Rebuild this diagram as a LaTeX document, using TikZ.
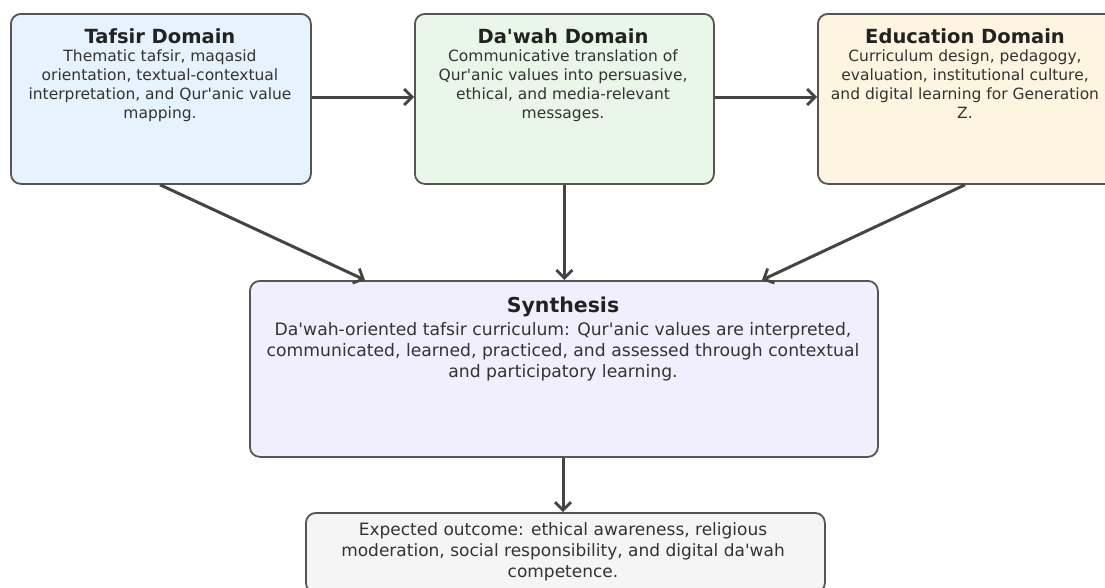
\documentclass[tikz,border=0pt]{standalone}
\usepackage{fontspec}
\setmainfont{DejaVu Sans}
\usetikzlibrary{arrows.meta}
\newcommand\ap{\textquotesingle}
\definecolor{bordc}{HTML}{555555}
\definecolor{arrc}{HTML}{444444}
\definecolor{tafc}{HTML}{E6F2FD}
\definecolor{dawc}{HTML}{E9F7E9}
\definecolor{educ}{HTML}{FEF5E1}
\definecolor{sync}{HTML}{F1EFFE}
\definecolor{outc}{HTML}{F5F5F5}
\definecolor{titc}{HTML}{222222}
\definecolor{bodc}{HTML}{333333}
\tikzset{
  box/.style={draw=bordc, line width=1.8pt, rounded corners=10pt, inner sep=0pt, anchor=north west},
  ttl/.style={anchor=base, text=titc, font=\bfseries\fontsize{19.5}{22}\selectfont},
  bdy/.style={anchor=north, text=bodc, align=center, inner sep=0pt, font=\fontsize{15.5}{19}\selectfont},
  conn/.style={draw=arrc, line width=3pt, -{Straight Barb[length=8pt,width=16pt,line width=2.8pt]}}
}
\begin{document}
\begin{tikzpicture}[x=1pt,y=-1pt]
\useasboundingbox (0,0) rectangle (1105,587);
\begin{scope}
\clip (0,0) rectangle (1105,587);
% boxes
\node[box, fill=tafc, minimum width=300pt, minimum height=170pt] (taf) at (10,13) {};
\node[box, fill=dawc, minimum width=299pt, minimum height=170pt] (daw) at (414,13) {};
\node[box, fill=educ, minimum width=300pt, minimum height=170pt] (edu) at (817,13) {};
\node[box, fill=sync, minimum width=628pt, minimum height=176pt] (syn) at (249,280) {};
\node[box, fill=outc, minimum width=519pt, minimum height=80pt] (out) at (305,512) {};

% texts
\node[ttl] (taft) at (160,43) {Tafsir Domain};
\node[bdy] (tafb) at (160,50) {Thematic tafsir, maqasid\\orientation, textual-contextual\\interpretation, and Qur\ap anic value\\mapping.};
\node[ttl] (dawt) at (563,43) {Da\ap wah Domain};
\node[bdy] (dawb) at (563,50) {Communicative translation of\\Qur\ap anic values into persuasive,\\ethical, and media-relevant\\messages.};
\node[ttl] (edut) at (965,43) {Education Domain};
\node[bdy] (edub) at (965,50) {Curriculum design, pedagogy,\\evaluation, institutional culture,\\and digital learning for Generation\\Z.};
\node[ttl, font=\bfseries\fontsize{20.5}{23}\selectfont] (synt) at (563,312) {Synthesis};
\node[bdy, font=\fontsize{17.2}{21}\selectfont] (synb) at (563,322) {Da\ap wah-oriented tafsir curriculum: Qur\ap anic values are interpreted,\\communicated, learned, practiced, and assessed through contextual\\and participatory learning.};
\node[bdy, font=\fontsize{17}{21}\selectfont] (outb) at (563,522) {Expected outcome: ethical awareness, religious\\moderation, social responsibility, and digital da\ap wah\\competence.};
\end{scope}

% connectors
\draw[conn] (taf.east |- 0,97) -- (daw.west |- 0,97);
\draw[conn] (daw.east |- 0,97) -- (edu.west |- 0,97);
\draw[conn] (taf.south -| 160,0) -- (syn.north -| 365,0);
\draw[conn] (daw.south) -- (syn.north -| daw.south);
\draw[conn] (edu.south -| 965,0) -- (syn.north -| 762,0);
\draw[conn] (syn.south -| 563,0) -- (out.north -| 563,0);
\end{tikzpicture}
\end{document}
